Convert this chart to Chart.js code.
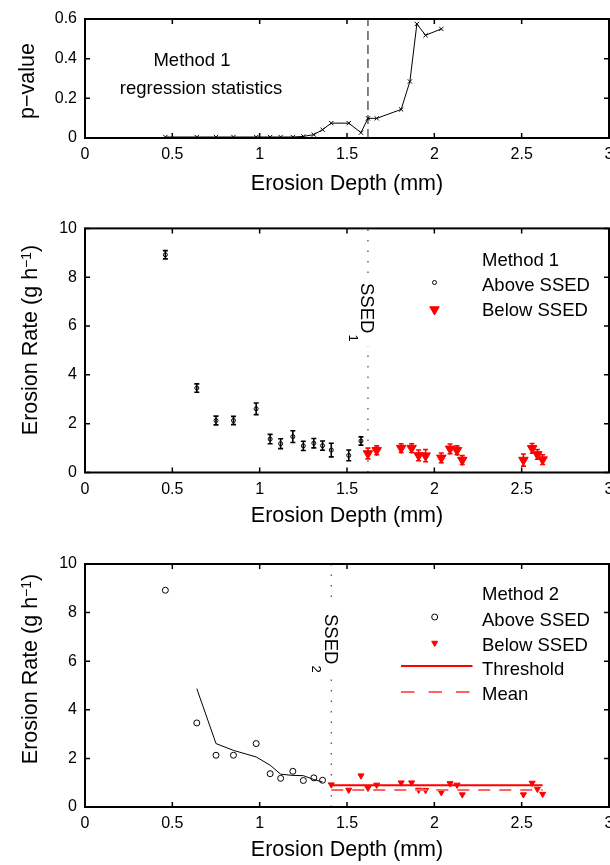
<!DOCTYPE html>
<html>
<head>
<meta charset="utf-8">
<script src="https://cdn.jsdelivr.net/npm/chart.js@4.4.1/dist/chart.umd.min.js"></script>
<style>
  body { margin: 0; background: #fff; }
  canvas { position: absolute; left: 0; }
</style>
</head>
<body>
<canvas id="pChart" width="610" height="200" style="top:0px"></canvas>
<canvas id="m1Chart" width="610" height="335" style="top:200px"></canvas>
<canvas id="m2Chart" width="610" height="330" style="top:535px"></canvas>
<script>
// tick labels
const xTicks = [0, 0.5, 1, 1.5, 2, 2.5, 3];
const pTicks = [0, 0.2, 0.4, 0.6];
const rateTicks = [0, 2, 4, 6, 8, 10];

// top panel: p-value of the regression vs erosion depth
const pDepth = [0.46, 0.64, 0.75, 0.85, 0.98, 1.06, 1.12, 1.19, 1.25, 1.31, 1.36, 1.41, 1.51, 1.58, 1.62, 1.67, 1.81, 1.86, 1.90, 1.95, 2.04];
const pValue = [0.005, 0.005, 0.005, 0.005, 0.005, 0.005, 0.005, 0.005, 0.008, 0.017, 0.042, 0.075, 0.075, 0.027, 0.099, 0.099, 0.144, 0.285, 0.575, 0.518, 0.550];

// erosion rate per sample (g h^-1)
const depth = [0.46, 0.64, 0.75, 0.85, 0.98, 1.06, 1.12, 1.19, 1.25, 1.31, 1.36, 1.41, 1.51, 1.58,
               1.62, 1.67, 1.81, 1.87, 1.91, 1.95, 2.04, 2.09, 2.13, 2.16, 2.51, 2.56, 2.59, 2.62];
const rate = [8.92, 3.46, 2.13, 2.13, 2.61, 1.37, 1.18, 1.47, 1.09, 1.20, 1.10, 0.92, 0.70, 1.29,
              0.78, 0.91, 1.00, 1.00, 0.70, 0.69, 0.60, 0.97, 0.91, 0.51, 0.51, 0.99, 0.74, 0.53];
const rateErr = [0.17, 0.17, 0.18, 0.17, 0.24, 0.19, 0.20, 0.24, 0.19, 0.19, 0.19, 0.28, 0.22, 0.17,
                 0.22, 0.18, 0.18, 0.18, 0.22, 0.25, 0.20, 0.20, 0.18, 0.18, 0.25, 0.20, 0.20, 0.20];

// method 2 fitted curve above SSED2
const fitDepth = [0.64, 0.75, 0.85, 0.98, 1.06, 1.12, 1.19, 1.25, 1.31, 1.36];
const fitRate = [4.87, 2.61, 2.33, 2.06, 1.72, 1.35, 1.30, 1.29, 1.13, 1.03];

const ssed1 = 1.62;
const ssed2 = 1.41;
const split1 = 14;   // first index below SSED1
const split2 = 11;   // first index below SSED2
const threshold = 0.89;
const meanRate = 0.70;
const lineEnd = 2.62;

const FONT = '"Liberation Sans", Arial, Helvetica, sans-serif';
Chart.defaults.font.family = FONT;
Chart.defaults.color = '#000';

function pts(xs, ys) {
    return xs.map((v, i) => ({ x: v, y: ys[i] }));
}

function makeOptions(cfg) {
    return {
        responsive: false,
        animation: false,
        devicePixelRatio: 1,
        events: [],
        layout: { autoPadding: false, padding: { top: cfg.top, right: 1, left: 0, bottom: 0 } },
        plugins: { legend: { display: false }, tooltip: { enabled: false } },
        scales: {
            x: {
                type: 'linear', min: 0, max: 3,
                afterBuildTicks: s => { s.ticks = xTicks.map(v => ({ value: v })); },
                afterFit: s => { s.height = cfg.xh; s.paddingLeft = 0; s.paddingRight = 0; },
                grid: { display: false, drawTicks: false },
                border: { display: false },
                ticks: { color: '#000', font: { size: 16 }, padding: 7, maxRotation: 0, autoSkip: false, callback: v => String(v) },
                title: { display: true, text: 'Erosion Depth (mm)', color: '#000', font: { size: 21.5 }, padding: { top: 0, bottom: cfg.tpad } }
            },
            y: {
                type: 'linear', min: cfg.ymin, max: cfg.ymax,
                afterBuildTicks: s => { s.ticks = cfg.yticks.map(v => ({ value: v })); },
                afterFit: s => { s.width = 85; s.paddingTop = 0; s.paddingBottom = 0; },
                grid: { display: false, drawTicks: false },
                border: { display: false },
                ticks: { color: '#000', font: { size: 16 }, padding: 8, autoSkip: false, callback: v => String(v) }
            }
        }
    };
}

// box and inward ticks like matlab axes
const framePlugin = {
    id: 'frame',
    afterDatasetsDraw(chart) {
        const { ctx, chartArea: a, scales: { x, y } } = chart;
        ctx.save();
        ctx.strokeStyle = '#000';
        ctx.lineWidth = 1.5;
        ctx.beginPath();
        x.ticks.forEach(t => {
            const px = x.getPixelForValue(t.value);
            ctx.moveTo(px, a.bottom); ctx.lineTo(px, a.bottom - 5);
            ctx.moveTo(px, a.top); ctx.lineTo(px, a.top + 5);
        });
        y.ticks.forEach(t => {
            const py = y.getPixelForValue(t.value);
            ctx.moveTo(a.left, py); ctx.lineTo(a.left + 5, py);
            ctx.moveTo(a.right, py); ctx.lineTo(a.right - 5, py);
        });
        ctx.stroke();
        ctx.lineWidth = 2;
        ctx.strokeRect(a.left, a.top, a.right - a.left, a.bottom - a.top);
        ctx.restore();
    }
};

function drawText(ctx, s, x, y, size, align) {
    ctx.font = size + 'px ' + FONT;
    ctx.textAlign = align || 'left';
    ctx.textBaseline = 'middle';
    ctx.fillStyle = '#000';
    ctx.fillText(s, x, y);
}

// rotated y label, with optional superscript
function yLabel(ctx, parts, xBase, yCenter) {
    ctx.save();
    ctx.fillStyle = '#000';
    ctx.textBaseline = 'alphabetic';
    ctx.textAlign = 'left';
    let total = 0;
    parts.forEach(p => { ctx.font = p.size + 'px ' + FONT; p.w = ctx.measureText(p.text).width; total += p.w; });
    ctx.translate(xBase, yCenter);
    ctx.rotate(-Math.PI / 2);
    let pos = -total / 2;
    parts.forEach(p => {
        ctx.font = p.size + 'px ' + FONT;
        ctx.fillText(p.text, pos, -(p.rise || 0));
        pos += p.w;
    });
    ctx.restore();
}

function ssedLabel(ctx, x, yTop, sub) {
    ctx.save();
    ctx.font = '18.5px ' + FONT;
    const w = ctx.measureText('SSED').width;
    ctx.translate(x, yTop);
    ctx.rotate(Math.PI / 2);
    ctx.fillStyle = '#fff';
    ctx.fillRect(-9, -3, w + 22, 6);
    ctx.fillStyle = '#000';
    ctx.textAlign = 'left';
    ctx.textBaseline = 'alphabetic';
    ctx.fillText('SSED', 0, 6.6);
    ctx.font = '13px ' + FONT;
    ctx.fillText(sub, w + 1, 19);
    ctx.restore();
}

function rateTitle() {
    return [
        { text: 'Erosion Rate (g h', size: 21.5 },
        { text: '\u22121', size: 14, rise: 6 },
        { text: ')', size: 21.5 }
    ];
}

function hollow(ctx, r, x, y) {
    ctx.fillStyle = 'rgba(0,0,0,0)';
    ctx.strokeStyle = '#000';
    ctx.lineWidth = 1;
    Chart.helpers.drawPoint(ctx, { pointStyle: 'circle', radius: r, borderWidth: 1 }, x, y);
}

function redTri(ctx, r, x, y) {
    ctx.fillStyle = '#f00';
    ctx.strokeStyle = '#f00';
    ctx.lineWidth = 1;
    Chart.helpers.drawPoint(ctx, { pointStyle: 'triangle', radius: r, rotation: 180, borderWidth: 1 }, x, y);
}

// ---------- panel 1 ----------
new Chart(document.getElementById('pChart'), {
    type: 'scatter',
    data: {
        datasets: [{
            data: pts(pDepth, pValue),
            showLine: true,
            borderColor: '#000',
            borderWidth: 1,
            pointStyle: 'crossRot',
            pointRadius: 3,
            pointBorderColor: '#000',
            pointBorderWidth: 1
        }, {
            data: [{ x: ssed1, y: 0 }, { x: ssed1, y: 0.6 }],
            showLine: true,
            borderColor: '#333',
            borderWidth: 1.2,
            borderDash: [9, 5],
            pointRadius: 0
        }]
    },
    options: makeOptions({ top: 19, xh: 62, tpad: 3.4, ymin: 0, ymax: 0.6, yticks: pTicks }),
    plugins: [framePlugin, {
        id: 'pText',
        afterDraw(chart) {
            const ctx = chart.ctx;
            drawText(ctx, 'Method 1', 192, 61, 18.5, 'center');
            drawText(ctx, 'regression statistics', 201, 88.5, 18.5, 'center');
            yLabel(ctx, [{ text: 'p\u2212value', size: 21.5 }], 33.5, 81);
        }
    }]
});

// ---------- panel 2 ----------
const errorBars = {
    id: 'errorBars',
    beforeDatasetsDraw(chart) {
        const { ctx, scales: { x, y } } = chart;
        ctx.save();
        ctx.lineWidth = 1.6;
        depth.forEach((d, i) => {
            const px = x.getPixelForValue(d);
            const top = y.getPixelForValue(rate[i] + rateErr[i]);
            const bot = y.getPixelForValue(rate[i] - rateErr[i]);
            ctx.strokeStyle = i < split1 ? '#000' : '#f00';
            ctx.beginPath();
            ctx.moveTo(px, top); ctx.lineTo(px, bot);
            ctx.moveTo(px - 2.5, top); ctx.lineTo(px + 2.5, top);
            ctx.moveTo(px - 2.5, bot); ctx.lineTo(px + 2.5, bot);
            ctx.stroke();
        });
        ctx.restore();
    }
};

new Chart(document.getElementById('m1Chart'), {
    type: 'scatter',
    data: {
        datasets: [{
            data: [{ x: ssed1, y: 0 }, { x: ssed1, y: 10 }],
            showLine: true,
            borderColor: '#444',
            borderWidth: 1.2,
            borderDash: [1.5, 9],
            pointRadius: 0
        }, {
            data: pts(depth.slice(0, split1), rate.slice(0, split1)),
            pointStyle: 'circle',
            pointRadius: 2,
            pointBorderColor: '#000',
            pointBackgroundColor: 'rgba(0,0,0,0)',
            pointBorderWidth: 1
        }, {
            data: pts(depth.slice(split1), rate.slice(split1)),
            pointStyle: 'triangle',
            pointRotation: 180,
            pointRadius: 5.5,
            pointBorderColor: '#f00',
            pointBackgroundColor: '#f00',
            pointBorderWidth: 1
        }]
    },
    options: makeOptions({ top: 28.4, xh: 62.5, tpad: 5.9, ymin: 0, ymax: 10, yticks: rateTicks }),
    plugins: [errorBars, framePlugin, {
        id: 'm1Text',
        afterDatasetsDraw(chart) {
            const ctx = chart.ctx;
            const lx = chart.scales.x.getPixelForValue(ssed1);
            ssedLabel(ctx, lx, 283 - 200, '1');
        },
        afterDraw(chart) {
            const ctx = chart.ctx;
            const o = 200;
            drawText(ctx, 'Method 1', 482, 260.5 - o, 18.5);
            drawText(ctx, 'Above SSED', 482, 285.5 - o, 18.5);
            drawText(ctx, 'Below SSED', 482, 311 - o, 18.5);
            ctx.save();
            hollow(ctx, 2, 434.5, 282.5 - o);
            redTri(ctx, 5.5, 434.5, 309.5 - o);
            ctx.restore();
            yLabel(ctx, rateTitle(), 36.5, 340 - o);
        }
    }]
});

// ---------- panel 3 ----------
new Chart(document.getElementById('m2Chart'), {
    type: 'scatter',
    data: {
        datasets: [{
            data: [{ x: ssed2, y: 0 }, { x: ssed2, y: 10 }],
            showLine: true,
            borderColor: '#444',
            borderWidth: 1.2,
            borderDash: [1.5, 9],
            pointRadius: 0
        }, {
            data: pts(fitDepth, fitRate),
            showLine: true,
            borderColor: '#000',
            borderWidth: 1,
            pointRadius: 0
        }, {
            data: [{ x: ssed2, y: threshold }, { x: lineEnd, y: threshold }],
            showLine: true,
            borderColor: '#f00',
            borderWidth: 2,
            pointRadius: 0
        }, {
            data: [{ x: ssed2, y: meanRate }, { x: lineEnd, y: meanRate }],
            showLine: true,
            borderColor: '#ff6464',
            borderWidth: 2,
            borderDash: [12, 9],
            pointRadius: 0
        }, {
            data: pts(depth.slice(0, split2), rate.slice(0, split2)),
            pointStyle: 'circle',
            pointRadius: 3,
            pointBorderColor: '#000',
            pointBackgroundColor: 'rgba(0,0,0,0)',
            pointBorderWidth: 1
        }, {
            data: pts(depth.slice(split2), rate.slice(split2)),
            pointStyle: 'triangle',
            pointRotation: 180,
            pointRadius: 3.5,
            pointBorderColor: '#f00',
            pointBackgroundColor: '#f00',
            pointBorderWidth: 1
        }]
    },
    options: makeOptions({ top: 29, xh: 58, tpad: 2.4, ymin: 0, ymax: 10, yticks: rateTicks }),
    plugins: [framePlugin, {
        id: 'm2Text',
        afterDatasetsDraw(chart) {
            const ctx = chart.ctx;
            const lx = chart.scales.x.getPixelForValue(ssed2);
            ssedLabel(ctx, lx, 614 - 535, '2');
        },
        afterDraw(chart) {
            const ctx = chart.ctx;
            const o = 535;
            drawText(ctx, 'Method 2', 482, 595 - o, 18.5);
            drawText(ctx, 'Above SSED', 482, 620.5 - o, 18.5);
            drawText(ctx, 'Below SSED', 482, 645.5 - o, 18.5);
            drawText(ctx, 'Threshold', 482, 670 - o, 18.5);
            drawText(ctx, 'Mean', 482, 695 - o, 18.5);
            ctx.save();
            hollow(ctx, 3, 434.7, 617 - o);
            redTri(ctx, 3.5, 434.7, 643 - o);
            ctx.strokeStyle = '#f00';
            ctx.lineWidth = 2;
            ctx.beginPath(); ctx.moveTo(401, 666 - o); ctx.lineTo(472.5, 666 - o); ctx.stroke();
            ctx.strokeStyle = '#ff6464';
            ctx.setLineDash([13.5, 14]);
            ctx.beginPath(); ctx.moveTo(401, 692 - o); ctx.lineTo(472.5, 692 - o); ctx.stroke();
            ctx.restore();
            yLabel(ctx, rateTitle(), 36.5, 669 - o);
        }
    }]
});
</script>
</body>
</html>
